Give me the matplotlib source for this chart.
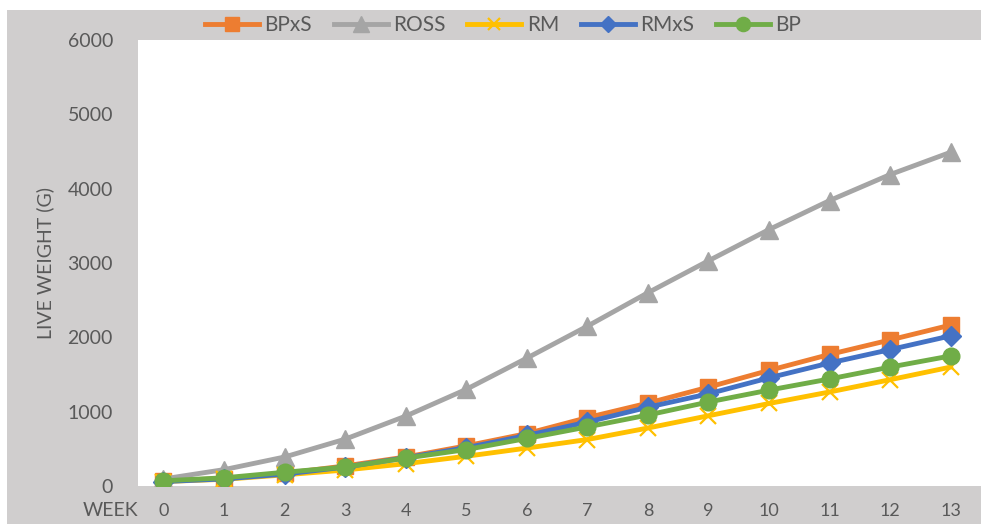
import matplotlib.pyplot as plt
import matplotlib.patches as mpatches

# ------------------------------------------------------------
# Dados (peso vivo em gramas por semana)
# ------------------------------------------------------------

weeks = list(range(14))

bpxs = [70, 100, 170, 270, 390, 540, 705, 920, 1115, 1330, 1555, 1770, 1965, 2165]
ross = [95, 220, 390, 630, 940, 1300, 1720, 2150, 2600, 3030, 3450, 3840, 4190, 4490]
rm   = [60, 90, 150, 215, 300, 400, 510, 625, 780, 945, 1110, 1265, 1430, 1600]
rmxs = [60, 95, 160, 255, 380, 515, 680, 860, 1060, 1240, 1455, 1655, 1835, 2020]
bp   = [70, 110, 185, 255, 375, 490, 640, 795, 955, 1130, 1290, 1440, 1600, 1750]

series_names = ["BPxS", "ROSS", "RM", "RMxS", "BP"]
y_ticks = [0, 1000, 2000, 3000, 4000, 5000, 6000]

# ------------------------------------------------------------
# Estilo
# ------------------------------------------------------------

STYLES = {
    "BPxS": dict(color="#ED7D31", marker="s", markersize=12),
    "ROSS": dict(color="#A5A5A5", marker="^", markersize=13),
    "RM":   dict(color="#FFC000", marker="x", markersize=11, markeredgewidth=1.6),
    "RMxS": dict(color="#4472C4", marker="D", markersize=10),
    "BP":   dict(color="#70AD47", marker="o", markersize=12),
}

BG_GRAY = "#D0CECE"
TXT = "#595959"
FONT = "Lato"

plt.rcParams["font.family"] = [FONT, "DejaVu Sans"]

W, H = 981, 524
fig = plt.figure(figsize=(W / 100, H / 100), dpi=100)
fig.patch.set_facecolor(BG_GRAY)

# margem branca em cima e à esquerda
fig.patches.append(mpatches.Rectangle(
    (0, (H - 10) / H), 1, 10 / H,
    transform=fig.transFigure, facecolor="white", edgecolor="none"
))
fig.patches.append(mpatches.Rectangle(
    (0, 0), 7 / W, 1,
    transform=fig.transFigure, facecolor="white", edgecolor="none"
))

left, right = 138 / W, 1.0
bottom, top = (H - 486) / H, (H - 40) / H
ax = fig.add_axes([left, bottom, right - left, top - bottom])
ax.set_facecolor("white")

data = [bpxs, ross, rm, rmxs, bp]
for name, values in zip(series_names, data):
    ax.plot(weeks, values, linewidth=3.5, label=name, **STYLES[name])

ax.set_xlim(-0.42, 13.5)
ax.set_ylim(0, 6000)
ax.set_yticks(y_ticks)
ax.set_xticks(weeks)
ax.set_yticklabels([str(v) for v in y_ticks])
ax.set_xticklabels([str(w) for w in weeks])

ax.tick_params(axis="y", length=0, pad=18, labelsize=14, labelcolor=TXT)
ax.tick_params(axis="x", length=0, pad=12, labelsize=13, labelcolor=TXT)

for spine in ax.spines.values():
    spine.set_visible(False)

# label "WEEK" à esquerda dos ticks
fig.text(111 / W, 1 - 511 / H, "WEEK", color=TXT, fontsize=14,
         ha="center", va="center")

# eixo Y
fig.text(45 / W, 1 - 263 / H, "LIVE WEIGHT (G)", color=TXT, fontsize=14,
         rotation=90, ha="center", va="center")

# legenda
leg = fig.legend(
    loc="center", bbox_to_anchor=(503 / W, 1 - 25 / H),
    ncol=5, frameon=False, fontsize=15, handlelength=2.6,
    columnspacing=1.05, handletextpad=0.25, labelcolor=TXT,
    markerscale=0.85
)

plt.savefig("out.png", dpi=100, facecolor=BG_GRAY)
